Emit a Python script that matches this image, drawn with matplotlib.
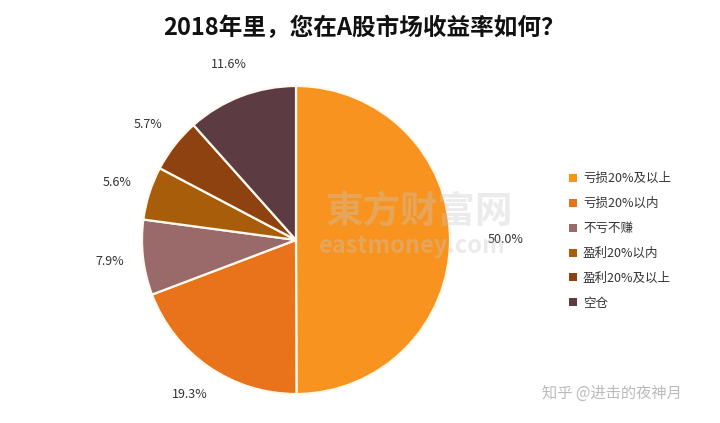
import matplotlib
matplotlib.use("Agg")
import matplotlib.pyplot as plt
from matplotlib.patches import Patch

plt.rcParams['font.family'] = ['Noto Sans CJK SC', 'DejaVu Sans']

categories = ['亏损20%及以上', '亏损20%以内', '不亏不赚', '盈利20%以内', '盈利20%及以上', '空仓']
values = [50.0, 19.3, 7.9, 5.6, 5.7, 11.6]
colors = ['#F7931E', '#E8731A', '#9A6A6A', '#A85D0A', '#8E4210', '#5C3B42']
title = '2018年里，您在A股市场收益率如何？'

W, H = 720, 423
fig = plt.figure(figsize=(W/100, H/100), dpi=100)
cx, cy, r = 296, 240, 154
ax = fig.add_axes([(cx - r)/W, (H - cy - r)/H, 2*r/W, 2*r/H])
wedges, texts, autotexts = ax.pie(values, colors=colors, startangle=90, counterclock=False,
       radius=1.0, autopct='%.1f%%', pctdistance=1.22, labeldistance=None,
       wedgeprops=dict(edgecolor='#FFF8EC', linewidth=1.6),
       textprops=dict(fontsize=9, color='#333333'))
# the big slice label sits a bit further out
x0, y0 = autotexts[0].get_position()
autotexts[0].set_position((x0 * 1.36 / 1.22, y0))
ax.set_xlim(-1, 1)
ax.set_ylim(-1, 1)
ax.set_aspect('equal')
ax.axis('off')

# watermark
fig.text(420/W, 1 - 212/H, '東方财富网', fontsize=27, color='#C8C8C8', alpha=0.35,
         ha='center', va='center', fontweight='bold', zorder=0.5)
fig.text(412/W, 1 - 246/H, 'eastmoney.com', fontsize=17, color='#C8C8C8', alpha=0.35,
         ha='center', va='center', fontweight='bold', zorder=0.5)

fig.text(364/W, 1 - 28/H, title, fontsize=17, fontweight='bold', ha='center', va='center',
         color='#111111')

handles = [Patch(facecolor=c, edgecolor='none') for c in colors]
fig.legend(handles, categories, loc='center left', bbox_to_anchor=(558/W, 1 - 241/H),
           frameon=False, fontsize=9, handlelength=0.6, handleheight=0.6,
           handletextpad=0.5, labelspacing=0.95, labelcolor='#333333')

fig.text(612/W, 1 - 393/H, '知乎 @进击的夜神月', fontsize=11, color='#BBBBBB',
         ha='center', va='center')

fig.savefig('out.png', dpi=100, facecolor='white')
